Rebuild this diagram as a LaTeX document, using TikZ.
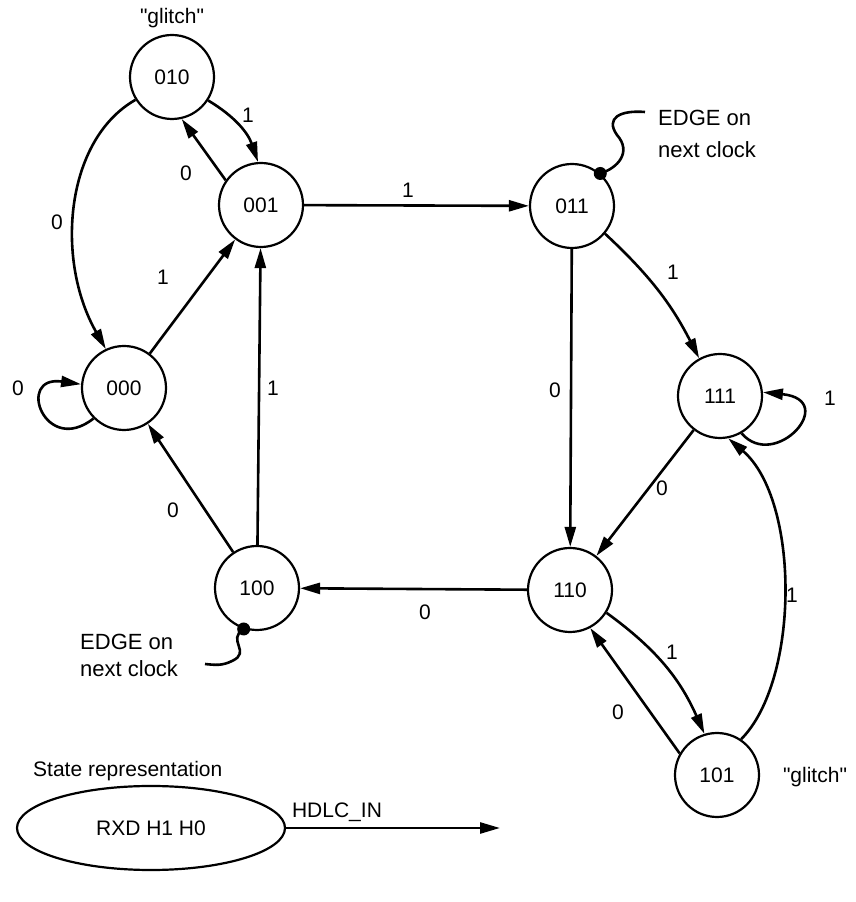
\documentclass[tikz,border=0pt]{standalone}
\usepackage{fontspec}
\setmainfont{Liberation Sans}
\newfontfamily\qfont{Liberation Sans}
\usetikzlibrary{arrows.meta,shapes.geometric}
\begin{document}
\begin{tikzpicture}[x=1pt,y=1pt,
  state/.style={circle,draw,line width=2.2pt,minimum size=84pt,inner sep=0pt,font=\fontsize{21}{25}\selectfont},
  tr/.style={line width=2.6pt,-{Triangle[length=20pt,width=11pt]}},
  lbl/.style={font=\fontsize{21}{25}\selectfont,inner sep=0pt},
  wire/.style={line width=2.6pt},
  dotc/.style={circle,fill,inner sep=0pt,minimum size=13pt}]
\useasboundingbox (0,0) rectangle (855,902);
% states
\node[state] (n010) at (172,825) {010};
\node[state] (n001) at (261,697) {001};
\node[state] (n011) at (572,696) {011};
\node[state] (n111) at (720,506) {111};
\node[state] (n000) at (124,514) {000};
\node[state] (n100) at (257,314) {100};
\node[state] (n110) at (570,312) {110};
\node[state] (n101) at (717,127) {101};
\node[lbl,font=\qfont\fontsize{21}{25}\selectfont] (g1) at (172,884) {"glitch"};
\node[lbl,font=\qfont\fontsize{21}{25}\selectfont] (g2) at (815,125) {"glitch"};
% transitions
\draw[tr] (n010.-33) to[bend left=20] (n001.94);
\draw[tr] (n001.145) -- (n010.-77);
\draw[tr] (n010.-148) .. controls (65,762) and (55,642) .. (n000.115);
\draw[tr] (n000) -- (n001);
\draw[tr] (n000.225) .. controls (45,445) and (15,527) .. (n000.175);
\draw[tr] (n100) -- (n000);
\draw[tr] (n100) -- (n001);
\draw[tr] (n001) -- (n011);
\draw[tr] (n011) -- (n110);
\draw[tr] (n011.-40) to[bend left=10] (n111.119);
\draw[tr] (n111.-60) .. controls (775,430) and (840,502) .. (n111.5);
\draw[tr] (n111) -- (n110);
\draw[tr] (n110) -- (n100);
\draw[tr] (n110.-32) to[bend left=15] (n101.107);
\draw[tr] (n101.150) -- (n110.-62);
\draw[tr] (n101.56) .. controls (800,222) and (800,402) .. (n111.-79);
% labels
\node[lbl] (l1) at (248,787) {1};
\node[lbl] (l2) at (186,729) {0};
\node[lbl] (l3) at (57,680) {0};
\node[lbl] (l4) at (163,625) {1};
\node[lbl] (l5) at (18,514) {0};
\node[lbl] (l6) at (173,392) {0};
\node[lbl] (l7) at (273,514) {1};
\node[lbl] (l8) at (408,712) {1};
\node[lbl] (l9) at (555,512) {0};
\node[lbl] (l10) at (673,630) {1};
\node[lbl] (l11) at (830,504) {1};
\node[lbl] (l12) at (662,414) {0};
\node[lbl] (l13) at (425,290) {0};
\node[lbl] (l14) at (672,250) {1};
\node[lbl] (l15) at (618,190) {0};
\node[lbl] (l16) at (792,307) {1};
% callouts
\node[dotc] (d1) at (n011.49) {};
\draw[wire] (d1.center) .. controls (618,734) and (632,750) .. (617,767) .. controls (605,784) and (620,792) .. (645,790);
\node[lbl,anchor=west,align=left,font=\fontsize{22}{32}\selectfont] (t1) at (658,768) {EDGE on\\next clock};
\node[dotc] (d2) at (n100.-108) {};
\draw[wire] (d2.center) .. controls (226,262) and (252,250) .. (232,241) .. controls (222,236) and (215,237) .. (205,238);
\node[lbl,anchor=west,align=left,font=\fontsize{22}{27}\selectfont] (t2) at (80,247) {EDGE on\\next clock};
% legend
\node[lbl,anchor=west] (sr) at (33,131) {State representation};
\node[draw,ellipse,line width=2.2pt,minimum width=268pt,minimum height=84pt,inner sep=0pt,font=\fontsize{21}{25}\selectfont] (leg) at (151,74) {RXD H1 H0};
\coordinate (hend) at (500,74);
\draw[tr] (leg.east) -- (hend);
\node[lbl] (hd) at (337,90) {HDLC\_IN};
\end{tikzpicture}
\end{document}
